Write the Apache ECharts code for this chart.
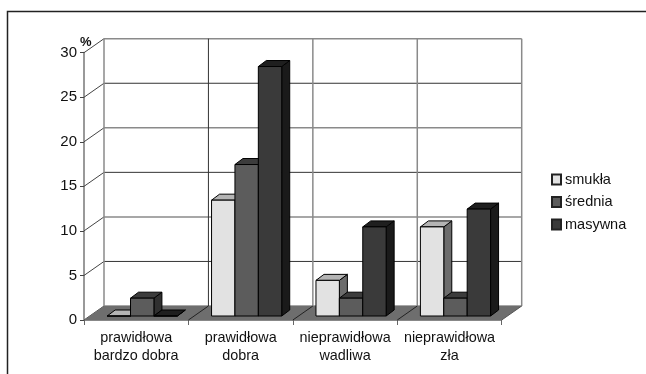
<!DOCTYPE html>
<html>
<head>
<meta charset="utf-8">
<style>
  html, body { margin: 0; padding: 0; background: #fff; }
  #chart { width: 646px; height: 374px; }
</style>
<script src="https://cdn.jsdelivr.net/npm/echarts@6/dist/echarts.min.js"></script>
</head>
<body>
<div id="chart"></div>
<script>
var categories = ['prawidłowa\nbardzo dobra', 'prawidłowa\ndobra', 'nieprawidłowa\nwadliwa', 'nieprawidłowa\nzła'];
var smukla = [0, 13, 4, 10];
var srednia = [2, 17, 2, 2];
var masywna = [0, 28, 10, 12];
var yTicks = [0, 5, 10, 15, 20, 25, 30];

// wall depth of the fake 3D box
var wallDx = 20, wallDy = 14;
// bar depth and where the bars stand on the floor
var barDx = 8, barDy = 6, floorDx = 6, floorDy = 4;

function toPairs(values) {
    return values.map(function (v, i) { return [i, v]; });
}

function line(x1, y1, x2, y2, color, width) {
    return {
        type: 'line',
        shape: { x1: x1, y1: y1, x2: x2, y2: y2 },
        style: { stroke: color, lineWidth: width }
    };
}

function poly(points, fill) {
    return {
        type: 'polygon',
        shape: { points: points },
        style: { fill: fill, stroke: '#000', lineWidth: 1, lineJoin: 'round' }
    };
}

// back wall, side wall and floor
function renderBox(params, api) {
    var rect = params.coordSys;
    var children = [];
    var left = rect.x, right = rect.x + rect.width, bottom = rect.y + rect.height;

    yTicks.forEach(function (t, i) {
        var y = api.coord([0, t])[1];
        var gray = i % 2 === 0;
        children.push(line(left, y, left + wallDx, y - wallDy, '#444', 1));
        children.push(line(left + wallDx, y - wallDy, right + wallDx, y - wallDy,
            gray ? '#8a8a8a' : '#333', gray ? 1.5 : 1));
    });

    var bandW = rect.width / categories.length;
    for (var i = 0; i <= categories.length; i++) {
        var x = left + wallDx + i * bandW;
        children.push(line(x, rect.y - wallDy, x, bottom - wallDy,
            i === 1 ? '#333' : '#8a8a8a', i === 1 ? 1 : 1.5));
    }

    children.push({
        type: 'polygon',
        shape: { points: [[left, bottom], [right, bottom], [right + wallDx, bottom - wallDy], [left + wallDx, bottom - wallDy]] },
        style: { fill: '#6e6e6e' }
    });
    for (var j = 1; j < categories.length; j++) {
        var fx = left + j * bandW;
        children.push(line(fx, bottom, fx + wallDx, bottom - wallDy, '#222', 1));
    }
    children.push(line(right, bottom, right + wallDx, bottom - wallDy, '#555', 1));

    return { type: 'group', children: children };
}

function barSeries(name, values, index, front, top, side) {
    return {
        name: name,
        type: 'custom',
        z: 3,
        itemStyle: { color: front, borderColor: '#222', borderWidth: 1 },
        encode: { x: 0, y: 1 },
        data: toPairs(values),
        renderItem: function (params, api) {
            var p = api.coord([api.value(0), api.value(1)]);
            var base = api.coord([api.value(0), 0]);
            var w = api.size([1, 0])[0] * 0.224;
            var x0 = p[0] + floorDx + (index - 1.5) * w;
            var x1 = x0 + w;
            var yTop = p[1] - floorDy;
            var yBase = base[1] - floorDy;
            return {
                type: 'group',
                children: [
                    poly([[x1, yBase], [x1 + barDx, yBase - barDy], [x1 + barDx, yTop - barDy], [x1, yTop]], side),
                    poly([[x0, yTop], [x0 + barDx, yTop - barDy], [x1 + barDx, yTop - barDy], [x1, yTop]], top),
                    poly([[x0, yBase], [x1, yBase], [x1, yTop], [x0, yTop]], front)
                ]
            };
        }
    };
}

var myChart = echarts.init(document.getElementById('chart'), null, { renderer: 'canvas' });

var option = {
    animation: false,
    backgroundColor: '#fff',
    textStyle: { fontFamily: 'Liberation Sans' },
    graphic: [{
        type: 'polyline',
        shape: { points: [[7.5, 374], [7.5, 11.5], [646, 11.5]] },
        style: { stroke: '#222', lineWidth: 1.5, fill: null }
    }],
    grid: { left: 84, top: 52.7, width: 417.7, height: 267.3 },
    legend: {
        data: ['smukła', 'średnia', 'masywna'],
        orient: 'vertical',
        left: 551,
        top: 172,
        padding: 0,
        icon: 'rect',
        itemWidth: 9,
        itemHeight: 10,
        itemGap: 7.5,
        textStyle: { fontSize: 14.5, color: '#111', padding: [0, 0, 0, -1] }
    },
    xAxis: {
        type: 'category',
        data: categories,
        axisLine: { lineStyle: { color: '#888', width: 1 } },
        axisTick: { show: true, length: 5, lineStyle: { color: '#666' } },
        axisLabel: { fontSize: 14.4, color: '#111', lineHeight: 18, margin: 9, interval: 0 },
        splitLine: { show: false }
    },
    yAxis: {
        type: 'value',
        min: 0,
        max: 30,
        interval: 5,
        name: '%',
        nameLocation: 'end',
        nameGap: 10,
        nameMoveOverlap: false,
        nameTextStyle: { fontSize: 13, fontWeight: 'bold', color: '#111', align: 'left', verticalAlign: 'middle', padding: [0, 0, 0, -4] },
        axisLine: { show: true, lineStyle: { color: '#999', width: 2 } },
        axisTick: { show: true, length: 4, lineStyle: { color: '#444' } },
        axisLabel: { fontSize: 15, color: '#111', margin: 7, padding: [3, 0, 0, 0] },
        splitLine: { show: false }
    },
    series: [
        {
            name: 'box',
            type: 'custom',
            z: 1,
            silent: true,
            encode: { x: 0, y: 1 },
            data: [[0, 0]],
            renderItem: renderBox
        },
        barSeries('smukła', smukla, 0, '#e2e2e2', '#b4b4b4', '#6c6c6c'),
        barSeries('średnia', srednia, 1, '#5c5c5c', '#3c3c3c', '#303030'),
        barSeries('masywna', masywna, 2, '#3a3a3a', '#1f1f1f', '#1a1a1a')
    ]
};

myChart.setOption(option);
</script>
</body>
</html>
